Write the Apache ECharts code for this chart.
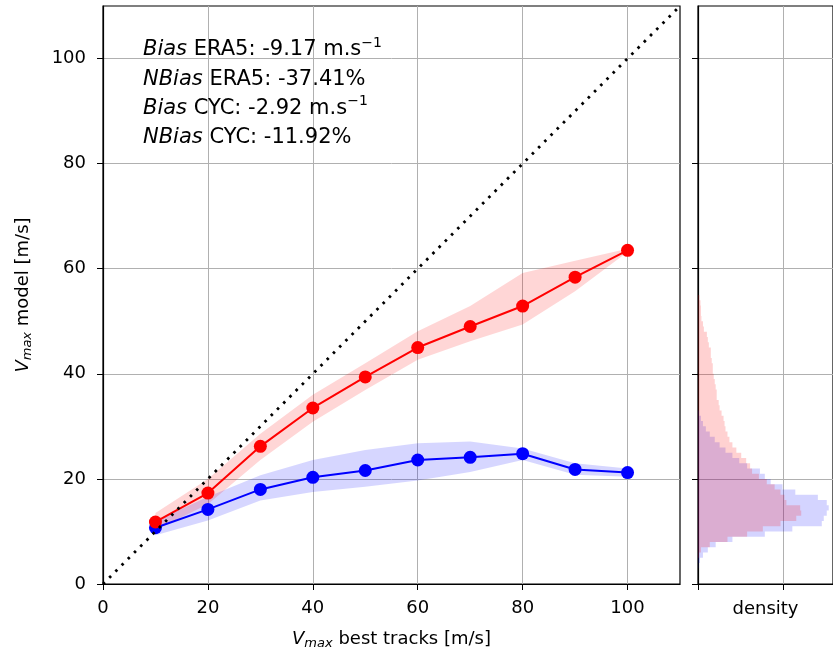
<!DOCTYPE html>
<html><head><meta charset="utf-8">
<script src="https://cdn.jsdelivr.net/npm/echarts@6/dist/echarts.min.js"></script>
<style>html,body{margin:0;padding:0;background:#fff}#c{width:833px;height:659px}</style>
</head><body><div id="c"></div>
<script>
// ---- data ----
const xBest = [10, 20, 30, 40, 50, 60, 70, 80, 90, 100];
const cycMean  = [11.8, 17.3, 26.2, 33.5, 39.4, 45.0, 49.0, 52.9, 58.4, 63.5];
const cycUpper = [13.5, 20.0, 28.6, 36.0, 42.0, 48.1, 52.9, 59.2, 61.5, 63.8];
const cycLower = [10.3, 15.2, 23.6, 30.9, 36.9, 42.7, 46.2, 49.4, 55.7, 63.2];
const era5Mean  = [10.7, 14.2, 18.0, 20.3, 21.6, 23.6, 24.1, 24.8, 21.8, 21.2];
const era5Upper = [12.0, 16.6, 20.7, 23.6, 25.5, 26.8, 27.1, 25.8, 23.0, 22.0];
const era5Lower = [9.3, 12.1, 15.9, 17.5, 18.5, 19.7, 21.3, 23.6, 20.8, 20.4];
const diagX = [0, 110];
const diagY = [0, 110];
const tickValues = [0, 20, 40, 60, 80, 100];
// histogram bins (lower edges, width 1 m/s)
const binLow = [0,1,2,3,4,5,6,7,8,9,10,11,12,13,14,15,16,17,18,19,20,21,22,23,24,25,26,27,28,29,30,31,32,33,34,35,36,37,38,39,40,41,42,43,44,45,46,47,48,49,50,51,52,53,54];
const binWidth = 1;
const era5Density = [0,0,0,0.0006,0.0023,0.0058,0.0115,0.0207,0.0403,0.0782,0.1104,0.1449,0.1472,0.1507,0.1530,0.1507,0.1403,0.1139,0.0989,0.0851,0.0782,0.0725,0.0575,0.0483,0.0403,0.0322,0.0253,0.0196,0.0138,0.0092,0.0058,0.0035,0.0012,0,0,0,0,0,0,0,0,0,0,0,0,0,0,0,0,0,0,0,0,0,0];
const cycDensity = [0,0,0,0,0,0.0012,0.0035,0.0138,0.0345,0.0575,0.0759,0.0966,0.1150,0.1208,0.1196,0.1035,0.1012,0.0966,0.0897,0.0805,0.0713,0.0633,0.0610,0.0564,0.0506,0.0449,0.0403,0.0368,0.0345,0.0322,0.0311,0.0299,0.0276,0.0253,0.0242,0.0219,0.0219,0.0207,0.0196,0.0184,0.0173,0.0173,0.0161,0.0150,0.0150,0.0127,0.0115,0.0104,0.0069,0.0058,0.0040,0.0035,0.0035,0.0029,0.0017];
const annotLines = [
  '{it|Bias} ERA5: -9.17 m.s{sup|\u22121}',
  '{it|NBias} ERA5: -37.41%',
  '{it|Bias} CYC: -2.92 m.s{sup|\u22121}',
  '{it|NBias} CYC: -11.92%'
];

// ---- chart ----
const FONT = 'DejaVu Sans';
const chart = echarts.init(document.getElementById('c'), null, {renderer: 'canvas'});

function bandSeries(upper, lower, color) {
  return {
    type: 'custom', xAxisIndex: 0, yAxisIndex: 0, z: 1, silent: true,
    data: xBest.map((x, i) => [x, upper[i]]),
    renderItem: function (params, api) {
      if (params.dataIndex !== 0) return {type: 'group', children: []};
      const pts = [];
      for (let i = 0; i < xBest.length; i++) pts.push(api.coord([xBest[i], upper[i]]));
      for (let i = xBest.length - 1; i >= 0; i--) pts.push(api.coord([xBest[i], lower[i]]));
      return {type: 'polygon', shape: {points: pts}, style: {fill: color, stroke: null}};
    }
  };
}
function histSeries(dens, color, z) {
  return {
    type: 'custom', xAxisIndex: 1, yAxisIndex: 1, z: z, silent: true,
    data: binLow.map((b, i) => [dens[i], b]),
    renderItem: function (params, api) {
      if (params.dataIndex !== 0) return {type: 'group', children: []};
      const pts = [api.coord([0, binLow[0]])];
      for (let i = 0; i < binLow.length; i++) {
        pts.push(api.coord([dens[i], binLow[i]]));
        pts.push(api.coord([dens[i], binLow[i] + binWidth]));
      }
      pts.push(api.coord([0, binLow[binLow.length - 1] + binWidth]));
      return {type: 'polygon', shape: {points: pts}, style: {fill: color, stroke: null}};
    }
  };
}

const axisCommon = {
  axisLine: {show: true, onZero: false, lineStyle: {color: '#000', width: 1.2}},
  axisTick: {show: true, length: 6, inside: false, lineStyle: {color: '#000', width: 1}},
  splitLine: {show: true, lineStyle: {color: '#b0b0b0', width: 1}}
};
const nameRich = {
  i: {fontFamily: FONT, fontSize: 18, fontStyle: 'italic', lineHeight: 22, color: '#000'},
  s: {fontFamily: FONT, fontSize: 13, fontStyle: 'italic', lineHeight: 14, verticalAlign: 'bottom', color: '#000'}
};

const option = {
  animation: false,
  backgroundColor: '#fff',
  grid: [
    {left: 103, top: 6, width: 577, height: 578, show: true, borderColor: '#000', borderWidth: 1.2, containLabel: false},
    {left: 698, top: 6, width: 138, height: 578, show: true, borderColor: '#000', borderWidth: 1.2, containLabel: false}
  ],
  xAxis: [
    Object.assign({}, axisCommon, {
      gridIndex: 0, type: 'value', min: 0, max: 110, interval: 20,
      axisTick: Object.assign({}, axisCommon.axisTick, {customValues: tickValues}),
      axisLabel: {customValues: tickValues, margin: 15, fontFamily: FONT, fontSize: 18, color: '#000'},
      name: '{i|V}{s|max} best tracks [m/s]', nameLocation: 'middle', nameGap: 44,
      nameTextStyle: {fontFamily: FONT, fontSize: 18, color: '#000', lineHeight: 22, rich: nameRich}
    }),
    Object.assign({}, axisCommon, {
      gridIndex: 1, type: 'value', min: 0, max: 0.158, interval: 0.1,
      axisTick: Object.assign({}, axisCommon.axisTick, {customValues: [0, 0.1]}),
      axisLabel: {show: false},
      name: 'density', nameLocation: 'middle', nameGap: 14,
      nameTextStyle: {fontFamily: FONT, fontSize: 18, color: '#000', lineHeight: 22}
    })
  ],
  yAxis: [
    Object.assign({}, axisCommon, {
      gridIndex: 0, type: 'value', min: 0, max: 110, interval: 20,
      axisTick: Object.assign({}, axisCommon.axisTick, {customValues: tickValues}),
      axisLabel: {customValues: tickValues, margin: 17, fontFamily: FONT, fontSize: 18, color: '#000'},
      name: '{i|V}{s|max} model [m/s]', nameLocation: 'middle', nameGap: 69, nameRotate: 90,
      nameTextStyle: {fontFamily: FONT, fontSize: 18, color: '#000', lineHeight: 22, rich: nameRich}
    }),
    Object.assign({}, axisCommon, {
      gridIndex: 1, type: 'value', min: 0, max: 110, interval: 20,
      axisTick: Object.assign({}, axisCommon.axisTick, {customValues: tickValues}),
      axisLabel: {show: false}
    })
  ],
  series: [
    bandSeries(era5Upper, era5Lower, 'rgba(0,0,255,0.16)'),
    bandSeries(cycUpper, cycLower, 'rgba(255,0,0,0.16)'),
    {
      type: 'line', xAxisIndex: 0, yAxisIndex: 0, z: 3,
      data: xBest.map((x, i) => [x, era5Mean[i]]),
      symbol: 'circle', symbolSize: 13, showAllSymbol: true,
      lineStyle: {color: '#0000ff', width: 2}, itemStyle: {color: '#0000ff'}
    },
    {
      type: 'line', xAxisIndex: 0, yAxisIndex: 0, z: 4,
      data: xBest.map((x, i) => [x, cycMean[i]]),
      symbol: 'circle', symbolSize: 13, showAllSymbol: true,
      lineStyle: {color: '#ff0000', width: 2}, itemStyle: {color: '#ff0000'}
    },
    {
      type: 'line', xAxisIndex: 0, yAxisIndex: 0, z: 5, silent: true,
      data: diagX.map((x, i) => [x, diagY[i]]), symbol: 'none',
      lineStyle: {color: '#000', width: 2.8, type: [2.6, 6.2], cap: 'butt'}
    },
    histSeries(era5Density, 'rgba(0,0,255,0.17)', 2),
    histSeries(cycDensity, 'rgba(255,0,0,0.18)', 3)
  ],
  graphic: annotLines.map((t, i) => ({
    type: 'text', x: 143, y: [50, 79.5, 108.5, 137.5][i], z: 10, silent: true,
    style: {
      text: t, fill: '#000', font: '21px "DejaVu Sans"', verticalAlign: 'middle', align: 'left', lineHeight: 28,
      rich: {
        it: {fontFamily: FONT, fontSize: 21, fontStyle: 'italic', lineHeight: 28, fill: '#000'},
        sup: {fontFamily: FONT, fontSize: 14, lineHeight: 17, verticalAlign: 'top', fill: '#000'}
      }
    }
  }))
};
chart.setOption(option);
</script>
</body></html>
